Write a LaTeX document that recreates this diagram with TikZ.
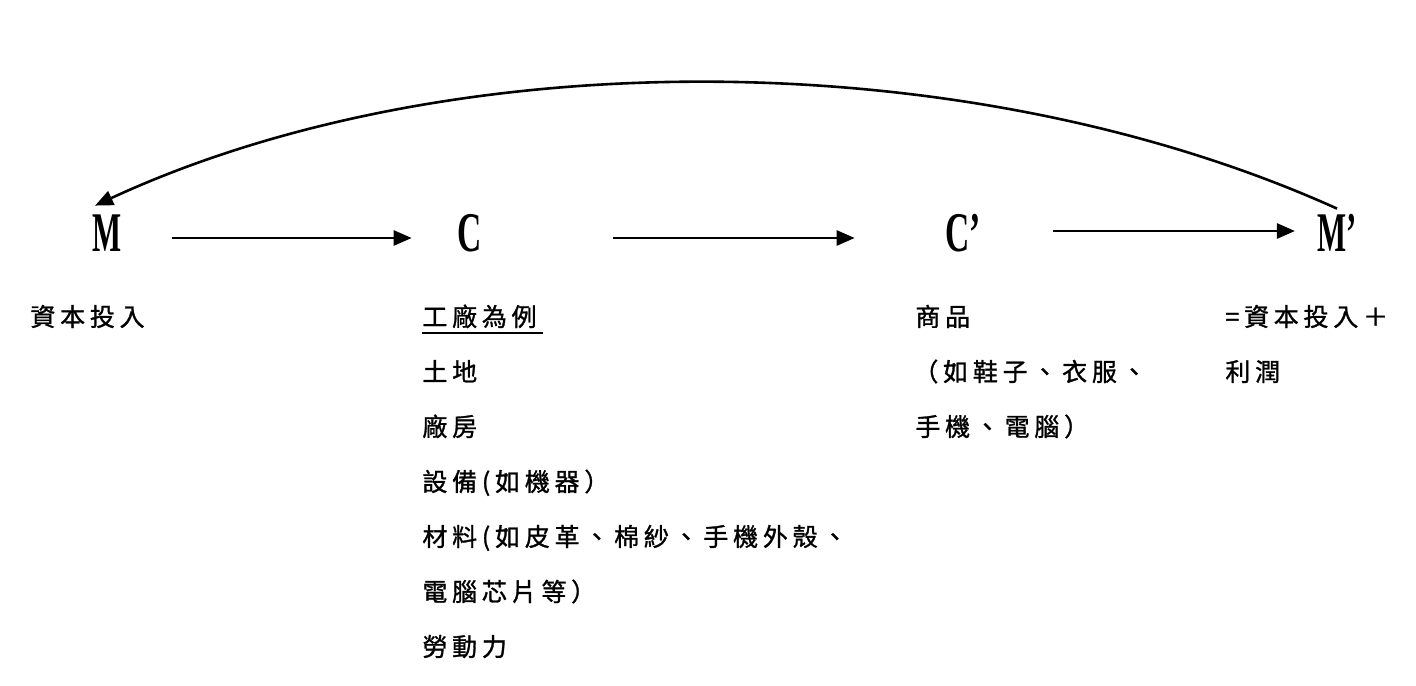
\documentclass[tikz,border=0pt]{standalone}
\usepackage{fontspec}
\usetikzlibrary{arrows.meta}
\setmainfont{Liberation Serif}
\newfontfamily\cjk[LetterSpace=19,FakeBold=1.2]{Noto Sans CJK TC}

\tikzset{
  letter/.style={anchor=base,inner sep=0pt,text height=18.5bp,text depth=5.5bp,
                 font=\fontsize{28bp}{30bp}\selectfont\bfseries},
  txt/.style={anchor=base west,inner sep=0pt,font=\cjk\fontsize{12.5bp}{14bp}\selectfont},
  flow/.style={line width=1.3bp,-{Triangle[length=9bp,width=7.5bp]}},
}

\begin{document}
\begin{tikzpicture}[x=0.5bp,y=-0.5bp]
\useasboundingbox (0,0) rectangle (1416,686);
% the four stages
\node[letter] (M)  at (107.5,251) {\scalebox{0.55}[1]{M}};
\node[letter] (C)  at (470,251)   {\scalebox{0.6}[1]{C}};
\node[letter] (Cp) at (963,251)   {\scalebox{0.6}[1]{C’}};
\node[letter] (Mp) at (1337,251)  {\scalebox{0.55}[1]{M’}};
% arrows
\draw[flow,shorten <=24.75bp,shorten >=22.9bp] (M) -- (C);
\draw[flow,shorten <=65.4bp,shorten >=45.1bp] (C) -- (Cp);
\draw[flow,shorten <=36.1bp,shorten >=11bp] ([yshift=3.5bp]Cp.east) -- ([yshift=3.5bp]Mp.west);
\draw[flow] ([yshift=2.5bp]Mp.north) .. controls +(-371,-167.5) and +(355,-164.5) .. ([xshift=1.25bp,yshift=4bp]M.north west);
% texts under M
\node[txt] (m1) at (30,326) {資本投入};
% texts under C
\node[txt] (head) at (422,326) {工廠為例};
\draw[line width=1bp] ([yshift=-3.5bp]head.base west) -- ([yshift=-3.5bp,xshift=3bp]head.base east);
\node[txt] (c1) at (422,381) {土地};
\node[txt] (c2) at (422,436) {廠房};
\node[txt] (c3) at (422,491) {設備(如機器）};
\node[txt] (c4) at (422,546) {材料(如皮革、棉紗、手機外殼、};
\node[txt] (c5) at (422,601) {電腦芯片等）};
\node[txt] (c6) at (422,656) {勞動力};
% texts under C'
\node[txt] (cp1) at (915,326) {商品};
\node[txt] (cp2) at (913,381) {（如鞋子、衣服、};
\node[txt] (cp3) at (915,436) {手機、電腦）};
% texts under M'
\node[txt] (mp1) at (1225,326) {=資本投入＋};
\node[txt] (mp2) at (1225,381) {利潤};
\end{tikzpicture}
\end{document}
